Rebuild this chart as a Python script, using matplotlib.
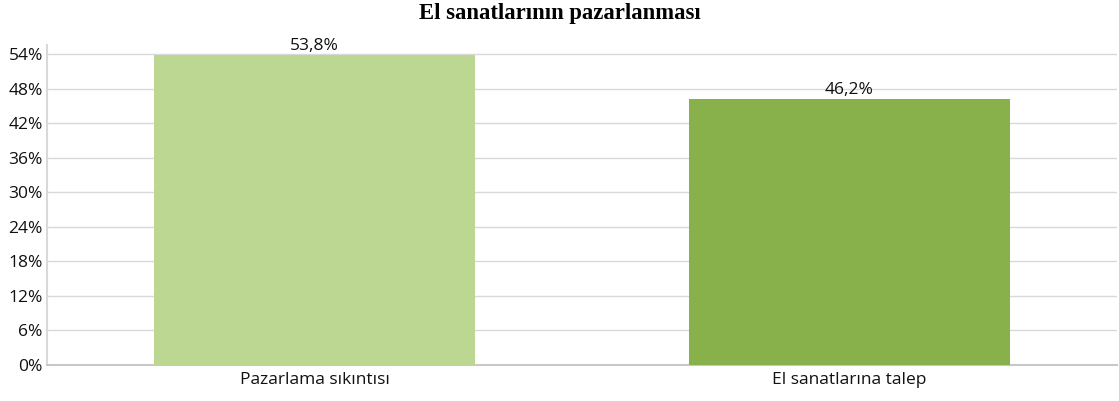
import numpy as np
import matplotlib.pyplot as plt
from matplotlib.ticker import FuncFormatter

kategoriler = ['Pazarlama sıkıntısı', 'El sanatlarına talep']
degerler = [53.8, 46.2]
renkler = ['#bcd792', '#88b14b']
etiketler = ['53,8%', '46,2%']
yticks = [0, 6, 12, 18, 24, 30, 36, 42, 48, 54]

plt.rcParams['font.family'] = ['Open Sans', 'DejaVu Sans']

fig = plt.figure(figsize=(11.19, 4.01), dpi=100)
ax = fig.add_axes([47/1119, 36/401, 1070/1119, 320/401])

x = np.arange(len(kategoriler))
bars = ax.bar(x, degerler, width=0.6, color=renkler, zorder=3)

for b, t in zip(bars, etiketler):
	ax.text(b.get_x() + b.get_width()/2, b.get_height() + 0.2, t,
		ha='center', va='bottom', fontsize=12.5, color='#111111', zorder=4)

ax.set_xlim(-0.5, 1.5)
ax.set_ylim(0, 55.6)
ax.set_yticks(yticks)
ax.yaxis.set_major_formatter(FuncFormatter(lambda v, p: '%d%%' % v))
ax.set_xticks(x)
ax.set_xticklabels(kategoriler)
ax.tick_params(axis='both', length=0, colors='#111111')
ax.tick_params(axis='y', pad=3, labelsize=12.5)
ax.tick_params(axis='x', pad=5, labelsize=12.5)

ax.grid(axis='y', color='#d9d9d9', linewidth=1, zorder=0)
for s in ['top', 'right']:
	ax.spines[s].set_visible(False)
ax.spines['left'].set_color('#d9d9d9')
ax.spines['left'].set_linewidth(1.5)
ax.spines['bottom'].set_color('#c8c8c8')
ax.spines['bottom'].set_linewidth(1.5)

fig.text(0.5, 1 - 13/401, 'El sanatlarının pazarlanması', ha='center', va='center',
	fontsize=16.3, fontweight='bold', family='Liberation Serif')

fig.savefig('out.png', dpi=100)
